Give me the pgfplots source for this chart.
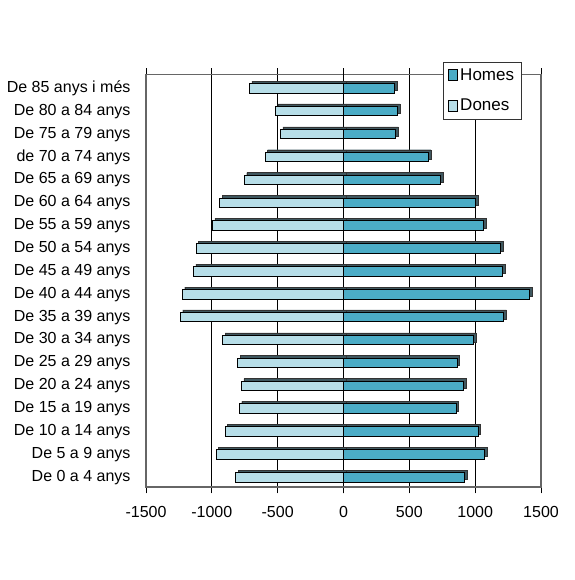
\documentclass[border=0pt]{standalone}
\usepackage{pgfplots}
\pgfplotsset{compat=1.18}
\usepackage{fontspec}
\setmainfont{Liberation Sans}
\definecolor{homes}{HTML}{4BACC6}
\definecolor{dones}{HTML}{B7DEE8}
\definecolor{shade}{HTML}{3F5860}
\pgfplotstableread{
y homes dones
0 919 -818
1 1073 -968
2 1022 -900
3 855 -792
4 914 -775
5 862 -803
6 988 -919
7 1218 -1240
8 1416 -1225
9 1210 -1140
10 1192 -1120
11 1066 -996
12 1001 -939
13 739 -754
14 644 -595
15 397 -479
16 409 -517
17 386 -715
}\pyr
\begin{document}
\begin{tikzpicture}
\path (0pt,0pt) rectangle (574pt,580pt);
\begin{axis}[
  at={(146pt,92.6pt)}, anchor=south west,
  scale only axis, width=395pt, height=413pt,
  xbar, bar width=9.5pt,
  xmin=-1500, xmax=1500, ymin=-0.44, ymax=17.61,
  xtick={-1500,-1000,...,1500},
  ytick={0,...,17},
  yticklabels={De 0 a 4 anys,De 5 a 9 anys,De 10 a 14 anys,De 15 a 19 anys,De 20 a 24 anys,De 25 a 29 anys,De 30 a 34 anys,De 35 a 39 anys,De 40 a 44 anys,De 45 a 49 anys,De 50 a 54 anys,De 55 a 59 anys,De 60 a 64 anys,De 65 a 69 anys,de 70 a 74 anys,De 75 a 79 anys,De 80 a 84 anys,De 85 anys i més},
  ytick style={draw=none},
  xtick style={black, line width=0.8pt},
  xtick align=outside, major tick length=6pt,
  xmajorgrids, grid style={black, line width=1pt},
  extra x ticks={0}, extra x tick labels={},
  extra x tick style={grid style={black, line width=1.2pt}},
  axis line style={black!60, line width=1.5pt},
  tick label style={font=\fontsize{16}{18}\selectfont},
  /pgf/number format/assume math mode=true,
  /pgf/number format/1000 sep={},
  yticklabel style={xshift=-6pt},
  xticklabel style={yshift=-9pt},
  legend style={at={(0.752,1.031)}, anchor=north west, draw=black!80, fill=white,
    font=\fontsize{17}{19}\selectfont, row sep=13pt, inner sep=5pt},
  legend cell align=left,
  area legend,
  legend image code/.code={\draw[#1] (0pt,-5.5pt) rectangle (9pt,5.5pt);},
  clip=false,
]
\addplot[forget plot, fill=shade, draw=black!80, bar shift=2.5pt, xshift=2.5pt] table[x=homes,y=y] {\pyr};
\addplot[forget plot, fill=shade, draw=black!80, bar shift=2.5pt, xshift=2.5pt] table[x=dones,y=y] {\pyr};
\addplot[fill=homes, draw=black, line width=1pt, bar shift=0pt] table[x=homes,y=y] {\pyr};
\addplot[fill=dones, draw=black, line width=1pt, bar shift=0pt] table[x=dones,y=y] {\pyr};
\draw[black!60, line width=1.8pt] (rel axis cs:0,0) -- (rel axis cs:1,0);
\legend{Homes,Dones}
\end{axis}
\end{tikzpicture}
\end{document}
